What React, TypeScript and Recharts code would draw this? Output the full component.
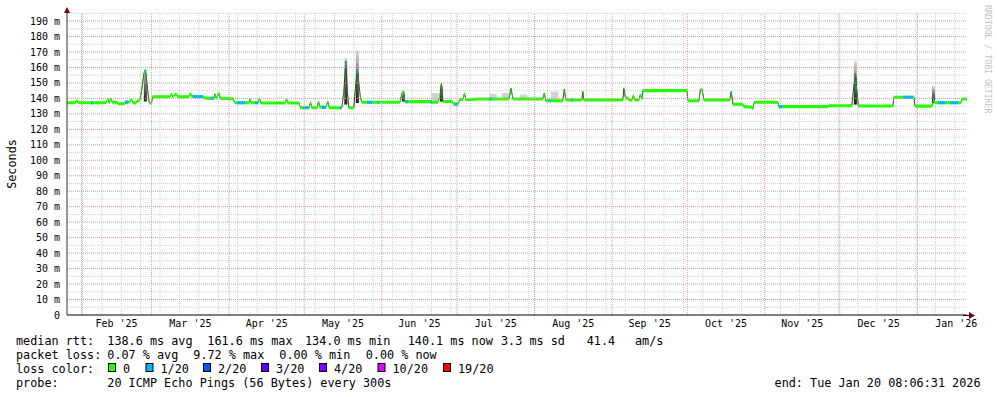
import React from "react";
import { ComposedChart, Area, XAxis, YAxis, CartesianGrid, ReferenceLine } from "recharts";

// x values are days counted from 1 Jan 2025 (day 0)
const medianDays = [
  25.2, 28.4, 29.0, 30.0, 40.8, 41.5, 42.1, 42.7, 43.3, 45.1,
  45.7, 47.9, 48.7, 50.3, 50.9, 51.5, 52.3, 53.1, 54.3, 55.1,
  55.9, 56.5, 57.1, 57.7, 58.1, 58.9, 59.5, 66.3, 66.9, 67.5,
  68.7, 69.5, 73.9, 74.5, 75.1, 79.5, 80.3, 83.9, 84.3, 84.9,
  85.9, 86.5, 91.5, 92.3, 97.9, 98.3, 98.9, 101.5, 102.1, 102.7,
  112.3, 112.9, 113.5, 117.9, 118.5, 121.9, 122.5, 123.1, 125.1, 125.7,
  126.2, 128.6, 129.4, 130.0, 135.0, 135.8, 136.6, 137.2, 137.8, 139.8,
  140.6, 141.2, 141.8, 142.4, 143.0, 158.2, 159.0, 159.6, 160.2, 170.2,
  171.0, 173.4, 174.2, 174.8, 175.4, 179.0, 179.8, 181.4, 182.2, 183.4,
  184.0, 184.6, 189.4, 201.8, 202.6, 203.4, 215.3, 215.9, 216.5, 223.3,
  223.9, 224.5, 230.9, 231.3, 231.7, 247.3, 247.7, 248.3, 249.3, 249.9,
  250.9, 251.5, 252.1, 253.7, 254.3, 254.9, 255.3, 272.9, 273.3, 277.7,
  278.3, 278.9, 279.7, 290.0, 290.6, 291.3, 295.2, 295.6, 298.8, 299.2,
  299.8, 309.2, 309.6, 329.2, 329.6, 338.8, 339.6, 340.2, 340.8, 341.4,
  355.2, 355.6, 363.6, 364.0, 370.8, 371.4, 372.0, 382.3, 382.9, 384.7,
];
// median rtt in ms
const medianMs = [
  137.2, 137.2, 138.5, 137.2, 137.2, 139.8, 137.0, 139.8, 137.5, 137.5,
  136.5, 136.5, 137.5, 137.8, 139.5, 137.5, 136.8, 138.0, 139.0, 146.0,
  156.0, 158.3, 151.0, 141.0, 137.0, 137.0, 141.1, 141.1, 142.8, 141.1,
  143.0, 141.1, 141.1, 143.2, 141.3, 141.1, 140.2, 140.0, 142.8, 140.0,
  143.5, 140.0, 139.8, 137.2, 137.2, 139.5, 137.2, 137.2, 140.0, 137.0,
  137.0, 139.5, 137.0, 137.0, 134.0, 134.0, 137.5, 134.0, 134.0, 138.0,
  134.5, 134.2, 138.0, 134.0, 134.0, 144.0, 164.0, 145.0, 134.0, 134.0,
  150.0, 158.4, 150.0, 141.0, 137.5, 137.5, 143.0, 144.4, 137.9, 137.9,
  137.5, 137.6, 141.0, 149.7, 138.0, 138.0, 136.3, 136.3, 139.4, 139.4,
  143.3, 139.0, 139.6, 139.6, 146.5, 139.6, 139.6, 143.3, 138.5, 138.5,
  145.9, 139.0, 139.0, 144.4, 139.0, 139.0, 146.5, 140.5, 140.0, 139.0,
  139.0, 142.0, 139.0, 139.0, 142.5, 139.5, 145.0, 145.0, 138.5, 138.5,
  145.9, 145.9, 139.0, 139.0, 144.4, 136.2, 136.2, 134.7, 134.3, 133.4,
  137.5, 137.5, 134.7, 134.7, 135.3, 135.3, 148.0, 156.0, 145.0, 135.1,
  135.1, 140.7, 140.7, 135.0, 135.0, 139.0, 137.2, 137.2, 139.6, 139.6,
];

// stretches with 1/20 loss
const blueStart = [34.8, 48.4, 56.2, 75.5, 82.5, 93.1, 100.3, 119.5, 127.0, 134.2, 136.4, 140.9, 145.0, 149.4, 160.4, 170.2, 180.2, 194.0, 217.5, 226.5, 290.3, 309.7, 340.3, 359.2, 373.2, 378.0];
const blueEnd = [35.6, 49.6, 56.8, 79.5, 83.9, 96.3, 101.5, 121.5, 128.6, 135.0, 136.8, 141.3, 147.0, 150.0, 161.4, 171.0, 181.4, 195.0, 218.3, 227.3, 290.7, 311.0, 340.7, 363.2, 376.0, 381.2];
const blueMs = [137.2, 137.6, 157.5, 141.2, 140.0, 137.2, 137.2, 134.0, 134.2, 134.0, 162.0, 157.0, 137.5, 137.5, 137.9, 137.8, 136.3, 139.6, 138.5, 139.0, 143.5, 134.7, 147.0, 140.7, 137.2, 137.2];

// smoke (spread of the 20 pings)
const smokeDays = [56.5, 136.6, 141.2, 159.6, 174.8, 340.2, 371.4];
const smokeLow = [138, 136, 137, 138, 138, 136, 137];
const smokeHigh = [159, 166, 171, 145, 149, 164, 148];
const paleSmokeDays = [172.2, 195.4, 200.4, 207.6, 220.1];
const paleSmokeLow = [138, 139.6, 139.6, 139.6, 139];
const paleSmokeHigh = [143.5, 143, 143.5, 142.5, 144.3];

const monthStarts = [31, 59, 90, 120, 151, 181, 212, 243, 273, 304, 334, 365, 396];
const monthLabels = ["Feb '25", "Mar '25", "Apr '25", "May '25", "Jun '25", "Jul '25", "Aug '25", "Sep '25", "Oct '25", "Nov '25", "Dec '25", "Jan '26"];
const yTicks = [0, 10, 20, 30, 40, 50, 60, 70, 80, 90, 100, 110, 120, 130, 140, 150, 160, 170, 180, 190];
const minorY = [5, 15, 25, 35, 45, 55, 65, 75, 85, 95, 105, 115, 125, 135, 145, 155, 165, 175, 185, 195];

const rttStats = ["138.6 ms avg", "161.6 ms max", "134.0 ms min", "140.1 ms now", "3.3 ms sd", "41.4", "am/s"];
const lossStats = ["0.07 % avg", "9.72 % max", "0.00 % min", "0.00 % now"];
const lossLabels = ["0", "1/20", "2/20", "3/20", "4/20", "10/20", "19/20"];
const lossColors = ["#26ff00", "#00b8ff", "#0059ff", "#5e00ff", "#7e00ff", "#dd00ff", "#ff0000"];
const probeText = "20 ICMP Echo Pings (56 Bytes) every 300s";
const endText = "end: Tue Jan 20 08:06:31 2026";

const MONO = "'DejaVu Sans Mono', monospace";
const BAND = 1.0; // half height of the loss coloured band (ms)
const SMOKE_HW = 0.6; // half width of a smoke column (days)
const MGRID = "#e09898";

const labelDays = monthLabels.map((_, i) => (monthStarts[i] + monthStarts[i + 1]) / 2);
const weekLines = Array.from({ length: 46 }, (_, i) => 31.4 + i * 7.745);
const rttX = [107.3, 207.3, 305, 407.7, 501, 586.7, 635];
const lossX = [107.3, 193.3, 279.3, 365.7];
const boxX = [108, 145.5, 203, 261, 319, 377.5, 443];

export default function App() {
  const medianData = medianDays.map((day, i) => ({ day, v: medianMs[i] }));
  const blueData = blueStart.flatMap((s, i) => [
    { day: s, v: blueMs[i] },
    { day: blueEnd[i], v: blueMs[i] },
    { day: blueEnd[i], v: null },
  ]);
  const band = (d: { v: number | null }) => (d.v == null ? null : [d.v - BAND, d.v + BAND]);

  return (
    <div style={{ position: "absolute", left: 0, top: 0, width: 997, height: 397, background: "#fff" }}>
      <ComposedChart width={997} height={397} margin={{ top: 13, right: 30, bottom: 0, left: 0 }}>
        <defs>
          <linearGradient id="smoke" x1="0" y1="0" x2="0" y2="1">
            <stop offset="0%" stopColor="#dcdcdc" />
            <stop offset="45%" stopColor="#777" />
            <stop offset="100%" stopColor="#1c1c1c" />
          </linearGradient>
        </defs>
        <CartesianGrid
          horizontalValues={minorY}
          verticalValues={weekLines}
          stroke="#cfcfcf"
          strokeDasharray="1 1"
        />
        <XAxis
          type="number"
          dataKey="day"
          domain={[25.2, 384.8]}
          allowDataOverflow
          ticks={labelDays}
          interval={0}
          tickFormatter={(v: number) => monthLabels[labelDays.indexOf(v)] ?? ""}
          tickLine={false}
          tickSize={0}
          tickMargin={5}
          height={82}
          axisLine={{ stroke: "#000" }}
          tick={{ fontFamily: MONO, fontSize: 10, fill: "#000" }}
        />
        <YAxis
          type="number"
          domain={[0, 195.2]}
          allowDataOverflow
          ticks={yTicks}
          interval={0}
          width={67}
          tickFormatter={(v: number) => (v === 0 ? "0" : `${v} m`)}
          tickLine={false}
          tickSize={0}
          tickMargin={7}
          axisLine={{ stroke: "#333" }}
          tick={{ fontFamily: MONO, fontSize: 10, fill: "#000" }}
        />
        {yTicks.slice(1).map((v) => (
          <ReferenceLine key={"hy" + v} y={v} stroke={MGRID} strokeDasharray="1 1" />
        ))}
        {monthStarts.slice(0, 12).map((d) => (
          <ReferenceLine key={"vx" + d} x={d} stroke={MGRID} strokeDasharray="1 1" />
        ))}
        {paleSmokeDays.map((d, i) => (
          <Area
            key={"p" + i}
            data={[
              { day: d - 1.5, r: [paleSmokeLow[i], paleSmokeHigh[i]] },
              { day: d + 1.5, r: [paleSmokeLow[i], paleSmokeHigh[i]] },
            ]}
            dataKey="r"
            type="linear"
            fill="#d2d2d2"
            fillOpacity={1}
            stroke="none"
            isAnimationActive={false}
          />
        ))}
        {smokeDays.map((d, i) => (
          <Area
            key={"s" + i}
            data={[
              { day: d - SMOKE_HW, r: [smokeLow[i], smokeHigh[i]] },
              { day: d + SMOKE_HW, r: [smokeLow[i], smokeHigh[i]] },
            ]}
            dataKey="r"
            type="linear"
            fill="url(#smoke)"
            fillOpacity={1}
            stroke="none"
            isAnimationActive={false}
          />
        ))}
        <Area
          data={medianData}
          dataKey="v"
          type="linear"
          fill="none"
          stroke="#202020"
          strokeWidth={1}
          isAnimationActive={false}
        />
        <Area
          data={medianData}
          dataKey={band}
          type="linear"
          fill={lossColors[0]}
          fillOpacity={1}
          stroke="none"
          isAnimationActive={false}
        />
        <Area
          data={blueData}
          dataKey={band}
          type="linear"
          fill={lossColors[1]}
          fillOpacity={1}
          stroke="none"
          isAnimationActive={false}
        />
      </ComposedChart>

      <svg
        width={997}
        height={397}
        style={{ position: "absolute", left: 0, top: 0, pointerEvents: "none" }}
        fontFamily={MONO}
      >
        <polygon points="64,13 70,13 67,7" fill="#7f0000" />
        <line x1={963} y1={315.5} x2={969} y2={315.5} stroke="#000" />
        <polygon points="969,312 969,319 975,315.5" fill="#7f0000" />
        <text
          transform="translate(15.5,164) rotate(-90)"
          textAnchor="middle"
          fontSize={11.8}
          fill="#000"
        >
          Seconds
        </text>
        <text transform="translate(985,5) rotate(90)" fontSize={8.2} fill="#c4c4c4">
          RRDTOOL / TOBI OETIKER
        </text>

        <g fontSize={11.8} fill="#000">
          <text x={16} y={344.5}>median rtt:</text>
          {rttStats.map((s, i) => (
            <text key={"r" + i} x={rttX[i]} y={344.5}>{s}</text>
          ))}
          <text x={16} y={358.5}>packet loss:</text>
          {lossStats.map((s, i) => (
            <text key={"l" + i} x={lossX[i]} y={358.5}>{s}</text>
          ))}
          <text x={16} y={372.5}>loss color:</text>
          {lossLabels.map((s, i) => (
            <g key={"c" + i}>
              <rect x={boxX[i] + 0.5} y={363.5} width={7} height={8} fill={lossColors[i]} stroke="#000" />
              <text x={boxX[i] + 15} y={372.5}>{s}</text>
            </g>
          ))}
          <text x={16} y={386.5}>probe:</text>
          <text x={107.3} y={386.5}>{probeText}</text>
          <text x={980.5} y={386.5} textAnchor="end">{endText}</text>
        </g>
      </svg>
    </div>
  );
}
